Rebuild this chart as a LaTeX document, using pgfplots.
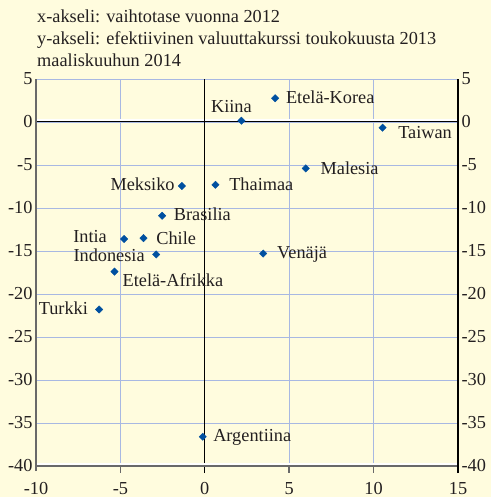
\documentclass[border=0pt]{standalone}
\usepackage{fontspec}
\setmainfont{Liberation Serif}
\usepackage{pgfplots}
\pgfplotsset{compat=1.18}
\definecolor{bg}{RGB}{255,252,222}
\definecolor{gridc}{RGB}{168,184,226}
\definecolor{mk}{RGB}{0,80,160}
\definecolor{txt}{RGB}{35,31,32}
\definecolor{axg}{RGB}{105,105,105}
\begin{document}
\begin{tikzpicture}[font=\fontsize{18.3bp}{22bp}\selectfont, text=txt]
\fill[bg] (-36bp,-31bp) rectangle (455bp,466bp);
\path[use as bounding box] (-36bp,-31bp) rectangle (455bp,466bp);
\node[anchor=base west,inner sep=0] at (1bp,443.3bp) {x-akseli: vaihtotase vuonna 2012};
\node[anchor=base west,inner sep=0] at (1bp,421bp) {y-akseli: efektiivinen valuuttakurssi toukokuusta 2013};
\node[anchor=base west,inner sep=0] at (1bp,399.3bp) {maaliskuuhun 2014};
\begin{axis}[
  scale only axis, width=422bp, height=387bp,
  xmin=-10, xmax=15, ymin=-40, ymax=5,
  xtick={-10,-5,0,5,10,15}, ytick={-40,-35,-30,-25,-20,-15,-10,-5,0,5},
  grid=major, grid style={gridc, line width=0.9bp},
  axis line style={draw=none},
  major tick length=0pt,
  tick label style={font=\fontsize{18.3bp}{22bp}\selectfont, text=txt},
  xticklabel style={anchor=base, yshift=-28bp},
  /pgf/number format/assume math mode=true,
  xtick pos=left, ytick pos=left,
  clip=false,
]
\draw[white, line width=2bp] ([yshift=1.5bp]axis cs:-10,0) -- ([yshift=1.5bp]axis cs:15,0);
\draw[black, line width=1bp] (axis cs:-10,0) -- (axis cs:15,0);
\draw[black, line width=1.2bp] ([yshift=-7bp]axis cs:0,-40) -- (axis cs:0,5);
\draw[white, line width=2bp] ([yshift=1.8bp]axis cs:-10,-40) -- ([yshift=1.8bp]axis cs:15,-40);
\draw[axg, line width=1.8bp] (axis cs:-10,-40) -- (axis cs:15,-40);
\draw[axg, line width=1.8bp] ([yshift=-5bp]axis cs:-10,-40) -- (axis cs:-10,5);
\draw[axg, line width=1.5bp] (axis cs:-5,-40) -- ([yshift=-7bp]axis cs:-5,-40);
\draw[axg, line width=1.5bp] (axis cs:5,-40) -- ([yshift=-7bp]axis cs:5,-40);
\draw[axg, line width=1.5bp] (axis cs:10,-40) -- ([yshift=-7bp]axis cs:10,-40);
\draw[black, line width=1.2bp] ([yshift=-7bp]axis cs:15,-40) -- (axis cs:15,5);
\addplot[only marks, mark=square*, mark size=2.6bp, mark options={rotate=45, fill=mk, draw=mk}] table {
x y
2.17 0.15
4.17 2.76
10.53 -0.66
5.98 -5.4
0.63 -7.3
3.46 -15.3
-1.36 -7.44
-2.53 -10.9
-4.78 -13.6
-3.63 -13.5
-2.88 -15.4
-5.35 -17.4
-6.26 -21.8
-0.12 -36.6
};
\node[anchor=base west,inner sep=0] at (axis cs:0.36,1.16) {Kiina};
\node[anchor=base west,inner sep=0] at (axis cs:4.8,2.1) {Etelä-Korea};
\node[anchor=base west,inner sep=0] at (axis cs:11.45,-1.9) {Taiwan};
\node[anchor=base west,inner sep=0] at (axis cs:6.85,-6.13) {Malesia};
\node[anchor=base west,inner sep=0] at (axis cs:1.44,-8.02) {Thaimaa};
\node[anchor=base west,inner sep=0] at (axis cs:4.28,-15.93) {Venäjä};
\node[anchor=base east,inner sep=0] at (axis cs:-1.78,-8.02) {Meksiko};
\node[anchor=base west,inner sep=0] at (axis cs:-1.84,-11.47) {Brasilia};
\node[anchor=base east,inner sep=0] at (axis cs:-5.79,-14.05) {Intia};
\node[anchor=base west,inner sep=0] at (axis cs:-2.88,-14.19) {Chile};
\node[anchor=base east,inner sep=0] at (axis cs:-3.55,-16.2) {Indonesia};
\node[anchor=base west,inner sep=0] at (axis cs:-4.88,-19.07) {Etelä-Afrikka};
\node[anchor=base east,inner sep=0] at (axis cs:-6.91,-22.33) {Turkki};
\node[anchor=base west,inner sep=0] at (axis cs:0.49,-37.17) {Argentiina};
\end{axis}
\begin{axis}[
  scale only axis, width=422bp, height=387bp,
  xmin=-10, xmax=15, ymin=-40, ymax=5,
  xtick=\empty, ytick={-40,-35,-30,-25,-20,-15,-10,-5,0,5},
  yticklabel pos=right, major tick length=0pt,
  axis line style={draw=none},
  tick label style={font=\fontsize{18.3bp}{22bp}\selectfont, text=txt},
  /pgf/number format/assume math mode=true,
]
\end{axis}
\end{tikzpicture}
\end{document}
